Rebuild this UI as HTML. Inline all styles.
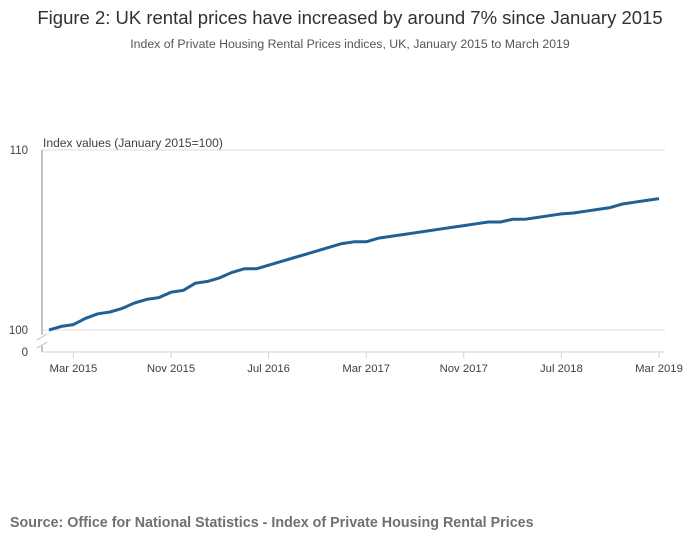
<!DOCTYPE html>
<html><head><meta charset="utf-8"><style>
body{margin:0;background:#fff;font-family:"Liberation Sans",sans-serif;}
#wrap{position:relative;width:700px;height:549px;overflow:hidden;}
</style></head><body>
<div id="wrap">
<svg id="chart" width="700" height="549">
<text x="350" y="24" text-anchor="middle" font-size="18.5" fill="#323132">Figure 2: UK rental prices have increased by around 7% since January 2015</text>
<text x="350" y="48" text-anchor="middle" font-size="12.3" fill="#555">Index of Private Housing Rental Prices indices, UK, January 2015 to March 2019</text>
<text x="43" y="147" font-size="12.1" fill="#414042">Index values (January 2015=100)</text>
<g id="grid"></g>
<g id="axes"></g>
<path id="line" fill="none" stroke="#206095" stroke-width="3" stroke-linejoin="round"></path>
<text x="10" y="527" font-size="14.3" font-weight="bold" fill="#707070">Source: Office for National Statistics - Index of Private Housing Rental Prices</text>
</svg>
</div>
<script>
const values=[100.0,100.2,100.3,100.65,100.9,101.0,101.2,101.5,101.7,101.8,102.1,102.2,
102.6,102.7,102.9,103.2,103.4,103.4,103.6,103.8,104.0,104.2,104.4,104.6,
104.8,104.9,104.9,105.1,105.2,105.3,105.4,105.5,105.6,105.7,105.8,105.9,
106.0,106.0,106.15,106.15,106.25,106.35,106.45,106.5,106.6,106.7,106.8,107.0,
107.1,107.2,107.3];
const xTickLabels=["Mar 2015","Nov 2015","Jul 2016","Mar 2017","Nov 2017","Jul 2018","Mar 2019"];
const xTickIndex=[2,10,18,26,34,42,50];
const yTickValues=[100,110];
const NS="http://www.w3.org/2000/svg";
const x0=49,x1=659,yb=330,yt=150;
function xs(i){return x0+(x1-x0)*i/(values.length-1);}
function ys(v){return yb-(v-100)*(yb-yt)/10;}
function el(t,a,p){const e=document.createElementNS(NS,t);for(const k in a)e.setAttribute(k,a[k]);p.appendChild(e);return e;}
const grid=document.getElementById('grid'),axes=document.getElementById('axes');
yTickValues.forEach(v=>{
 const l=el('line',{x1:42,x2:665,y1:ys(v),y2:ys(v),stroke:'#dcdcdc','stroke-width':1},grid);
 
 
 const t=el('text',{x:28,y:ys(v)+4,'font-size':11.5,fill:'#414042','text-anchor':'end'},grid);
 t.textContent=v;
 
 
});
const z=el('text',{x:28,y:356,'font-size':11.5,fill:'#414042','text-anchor':'end'},axes);z.textContent='0';


const ya=el('line',{x1:42,x2:42,y1:150,y2:335,stroke:'#888','stroke-width':1},axes);


const ya2=el('line',{x1:42,x2:42,y1:346,y2:352,stroke:'#888','stroke-width':1},axes);


const b1=el('line',{x1:37,x2:47,y1:340,y2:334,stroke:'#bbb','stroke-width':1},axes);


const b2=el('line',{x1:37,x2:47,y1:348,y2:342,stroke:'#bbb','stroke-width':1},axes);


const xa=el('line',{x1:42,x2:665,y1:352,y2:352,stroke:'#c6d4e6','stroke-width':1},axes);


xTickLabels.forEach((s,k)=>{
 const x=xs(xTickIndex[k]);
 const tk=el('line',{x1:x,x2:x,y1:352,y2:358,stroke:'#c6d4e6','stroke-width':1},axes);
 
 
 const t=el('text',{x:x,y:372,'font-size':11.3,fill:'#414042','text-anchor':'middle'},axes);
 t.textContent=s;
 
 
});
document.getElementById('line').setAttribute('d',values.map((v,i)=>(i?'L':'M')+xs(i).toFixed(1)+','+ys(v).toFixed(1)).join(''));
</script>
</body></html>
